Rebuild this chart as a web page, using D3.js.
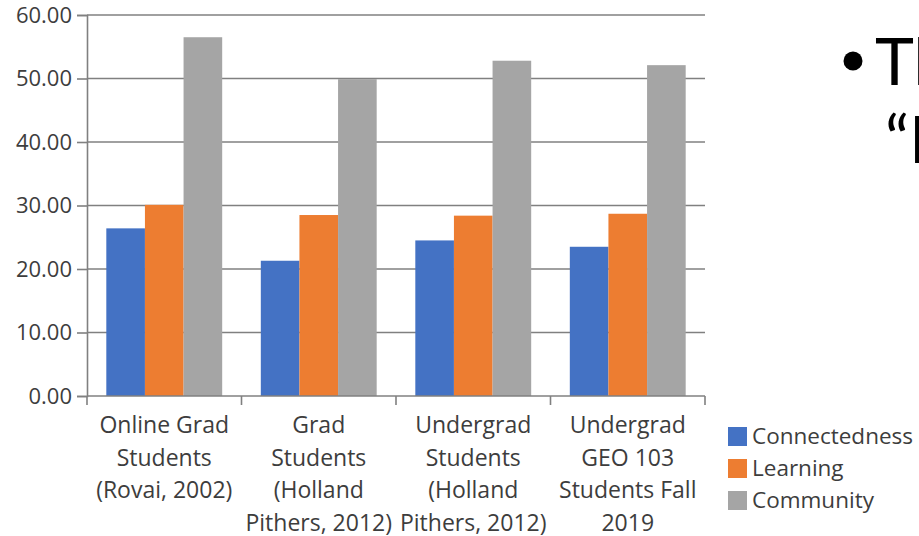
<!DOCTYPE html>
<html>
<head>
<meta charset="utf-8">
<script src="https://cdn.jsdelivr.net/npm/d3@7"></script>
<style>
  html, body { margin: 0; padding: 0; background: #fff; overflow: hidden; }
  svg { display: block; }
</style>
</head>
<body>
<svg id="chart" width="919" height="536"></svg>
<script>
// Sense-of-community subscale scores by student group
const groups = [
  ["Online Grad", "Students", "(Rovai, 2002)"],
  ["Grad", "Students", "(Holland", "Pithers, 2012)"],
  ["Undergrad", "Students", "(Holland", "Pithers, 2012)"],
  ["Undergrad", "GEO 103", "Students Fall", "2019"]
];
const seriesNames = ["Connectedness", "Learning", "Community"];
const connectedness = [26.4, 21.3, 24.5, 23.5];
const learning = [30.1, 28.5, 28.4, 28.7];
const community = [56.5, 49.9, 52.8, 52.1];
const yTicks = [0, 10, 20, 30, 40, 50, 60];
const colors = ["#4472C4", "#ED7D31", "#A5A5A5"];

(function draw() {
  const seriesValues = [connectedness, learning, community];
  const rows = groups.map((g, i) => ({
    key: i,
    lines: g,
    values: seriesNames.map((s, j) => ({ name: s, value: seriesValues[j][i] }))
  }));

  const svg = d3.select("#chart");
  const font = "'Open Sans', 'Noto Sans', sans-serif";
  const ink = "#3d3d3d";
  const plotLeft = 87, plotRight = 705, plotTop = 15, plotBottom = 396;

  const y = d3.scaleLinear().domain([0, 60]).range([plotBottom, plotTop]);
  const x0 = d3.scaleBand().domain(rows.map(r => r.key)).range([plotLeft, plotRight]).padding(0);
  const bw = x0.bandwidth();
  const x1 = d3.scaleBand().domain(seriesNames).range([bw * 0.125, bw * 0.875]).padding(0);
  const color = d3.scaleOrdinal().domain(seriesNames).range(colors);

  // Horizontal gridlines
  svg.append("g")
    .selectAll("line")
    .data(yTicks.filter(t => t > 0))
    .join("line")
    .attr("x1", plotLeft).attr("x2", plotRight)
    .attr("y1", d => y(d)).attr("y2", d => y(d))
    .attr("stroke", "#808080").attr("stroke-width", 1.6);

  // Bars
  svg.append("g")
    .selectAll("g")
    .data(rows)
    .join("g")
    .attr("transform", d => `translate(${x0(d.key)},0)`)
    .selectAll("rect")
    .data(d => d.values)
    .join("rect")
    .attr("x", d => x1(d.name))
    .attr("width", x1.bandwidth())
    .attr("y", d => y(d.value))
    .attr("height", d => y(0) - y(d.value))
    .attr("fill", d => color(d.name));

  // Y axis
  const yAxis = svg.append("g")
    .attr("transform", `translate(${plotLeft},0)`)
    .call(d3.axisLeft(y).tickValues(yTicks).tickFormat(d3.format(".2f")).tickSize(10).tickPadding(5));
  yAxis.select(".domain").attr("stroke", "#808080").attr("stroke-width", 1.6);
  yAxis.selectAll(".tick line").attr("stroke", "#808080").attr("stroke-width", 1.6);
  yAxis.selectAll(".tick text")
    .attr("font-family", font).attr("font-size", 22).attr("fill", ink);

  // X axis baseline with category separators
  const sepScale = d3.scaleLinear().domain([0, groups.length]).range([plotLeft, plotRight]);
  const xg = svg.append("g");
  xg.append("line")
    .attr("x1", plotLeft).attr("x2", plotRight)
    .attr("y1", plotBottom).attr("y2", plotBottom)
    .attr("stroke", "#808080").attr("stroke-width", 1.6);
  xg.selectAll("line.sep")
    .data(d3.range(groups.length + 1))
    .join("line")
    .attr("class", "sep")
    .attr("x1", d => sepScale(d)).attr("x2", d => sepScale(d))
    .attr("y1", plotBottom).attr("y2", plotBottom + 9)
    .attr("stroke", "#808080").attr("stroke-width", 1.6);

  // Category labels
  const lab = svg.append("g")
    .selectAll("text")
    .data(rows)
    .join("text")
    .attr("x", d => x0(d.key) + bw / 2)
    .attr("y", 433)
    .attr("text-anchor", "middle")
    .attr("font-family", font).attr("font-size", 23).attr("fill", ink);
  lab.selectAll("tspan")
    .data(d => d.lines)
    .join("tspan")
    .attr("x", function() { return d3.select(this.parentNode).attr("x"); })
    .attr("dy", (d, i) => i === 0 ? 0 : 32.5)
    .text(d => d);

  // Legend
  const legend = svg.append("g").attr("transform", "translate(728,427)");
  const li = legend.selectAll("g")
    .data(seriesNames)
    .join("g")
    .attr("transform", (d, i) => `translate(0,${i * 32})`);
  li.append("rect")
    .attr("width", 19).attr("height", 19)
    .attr("fill", d => color(d));
  li.append("text")
    .attr("x", 24).attr("y", 17)
    .attr("font-family", font).attr("font-size", 22.5).attr("fill", ink)
    .text(d => d);

  // Slide bullet text beside the chart
  const slide = svg.append("g").attr("font-family", "'Lato', 'Open Sans', sans-serif").attr("fill", "#000");
  slide.append("circle").attr("cx", 853).attr("cy", 61).attr("r", 9.5);
  slide.append("text").attr("x", 875).attr("y", 85).attr("font-size", 66).text("The");
  slide.append("text").attr("x", 885).attr("y", 163).attr("font-size", 66).text("“Ic");
})();
</script>
</body>
</html>
